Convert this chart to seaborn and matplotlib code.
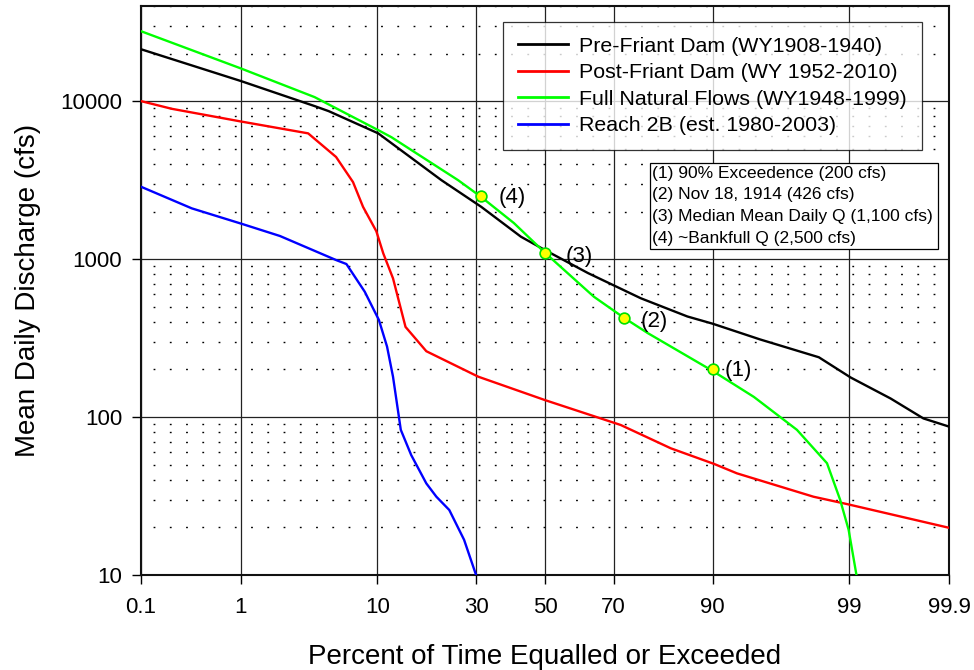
import numpy as np
import pandas as pd
import matplotlib
matplotlib.use("Agg")
import matplotlib.pyplot as plt
import matplotlib.ticker as mticker
from matplotlib.patches import Rectangle
import seaborn as sns
from statistics import NormalDist

# ---------------- data ----------------
pre_p = [0.1, 1.0, 3.9, 4.9, 10.1, 12, 21.4, 31.3, 42.7, 50, 62.9, 76.8, 86.2, 90, 95.0, 98.19, 99.03, 99.59, 99.81, 99.9]
pre_q = [21300, 13400, 9300, 8640, 6250, 5420, 3160, 2140, 1385, 1140, 815, 565, 433, 390, 310, 239, 178, 131, 98, 87]

post_p = [0.1, 0.215, 1.0, 3.5, 5.5, 7.1, 8.2, 9.85, 10.8, 12.25, 14.3, 18.2, 30.5, 50, 71.9, 83.2, 90.2, 92.9, 98.0, 98.96, 99.9]
post_q = [10000, 8940, 7430, 6250, 4430, 3070, 2140, 1500, 1087, 755, 372, 261, 180, 128, 89, 63.4, 50.5, 44, 31.3, 28.1, 19.9]

fnf_p = [0.1, 1.0, 3.9, 10.1, 12, 25.3, 31.2, 40.6, 50, 64.6, 72.7, 78.4, 90, 94.5, 97.3, 98.45, 98.8, 98.99, 99.14]
fnf_q = [27700, 16100, 10600, 6550, 5910, 3160, 2480, 1690, 1096, 577, 425, 340, 196, 134, 83, 51, 30, 19.3, 10]

r2b_p = [0.1, 0.345, 1.03, 2.13, 5.5, 6.44, 8.4, 10.2, 11.35, 12.25, 13.5, 15.3, 18.2, 20.3, 23.2, 26.8, 29.9]
r2b_q = [2870, 2094, 1667, 1400, 986, 930, 621, 411, 279, 180, 83, 57.5, 38, 31.3, 25.8, 16.7, 10]

series_names = ["Pre-Friant Dam (WY1908-1940)", "Post-Friant Dam (WY 1952-2010)",
                "Full Natural Flows (WY1948-1999)", "Reach 2B (est. 1980-2003)"]
series_colors = ["#000000", "#ff0000", "#00ff00", "#0000ff"]

pt_p = [90, 72.7, 50, 31.2]
pt_q = [200, 426, 1100, 2500]
pt_labels = ["(1)", "(2)", "(3)", "(4)"]

note_lines = ["(1) 90% Exceedence (200 cfs)", "(2) Nov 18, 1914 (426 cfs)",
              "(3) Median Mean Daily Q (1,100 cfs)", "(4) ~Bankfull Q (2,500 cfs)"]

xticks = [0.1, 1, 10, 30, 50, 70, 90, 99, 99.9]
xticklabels = ["0.1", "1", "10", "30", "50", "70", "90", "99", "99.9"]
yticks = [10, 100, 1000, 10000]
yticklabels = ["10", "100", "1000", "10000"]

# label offsets (pixels) for the point annotations
lab_dx = [12, 17, 21, 18]
lab_dy = [-1, -4, -4, -1]

# ---------------- plotting ----------------
plt.rcParams["font.family"] = ["Liberation Sans", "DejaVu Sans"]

frames = []
for name, p, q in zip(series_names, [pre_p, post_p, fnf_p, r2b_p], [pre_q, post_q, fnf_q, r2b_q]):
    frames.append(pd.DataFrame({"p": p, "q": q, "series": name}))
df = pd.concat(frames, ignore_index=True)

fig = plt.figure(figsize=(9.74, 6.70), dpi=100)
ax = fig.add_axes([141 / 974, 1 - 575 / 670, (949 - 141) / 974, (575 - 6) / 670])

_nd = NormalDist()
_ppf = np.vectorize(_nd.inv_cdf, otypes=[float])
_cdf = np.vectorize(_nd.cdf, otypes=[float])


def fwd(p):
    p = np.asarray(p, dtype=float)
    q = np.clip(p / 100.0, 1e-9, 1 - 1e-9)
    return _ppf(q)


def inv(z):
    z = np.asarray(z, dtype=float)
    return 100.0 * _cdf(z)


ax.set_xscale("function", functions=(fwd, inv))
ax.set_yscale("log")

for name, color in zip(series_names, series_colors):
    sub = df[df["series"] == name]
    sns.lineplot(data=sub, x="p", y="q", ax=ax, color=color, lw=1.7, sort=False,
                 estimator=None, label=name, zorder=3)

sns.scatterplot(x=pt_p, y=pt_q, ax=ax, color="#ffff00", edgecolor="#00e000", s=60,
                linewidth=1.2, zorder=4, legend=False)
for p, q, lab, dx, dy in zip(pt_p, pt_q, pt_labels, lab_dx, lab_dy):
    ax.annotate(lab, (p, q), xytext=(dx, dy), textcoords="offset pixels",
                ha="left", va="center", fontsize=16, zorder=5)

ax.set_xlim(0.1, 99.9)
ax.set_ylim(10, 40000)
ax.set_xticks(xticks)
ax.set_xticklabels(xticklabels)
ax.xaxis.set_minor_locator(mticker.NullLocator())
ax.set_yticks(yticks)
ax.set_yticklabels(yticklabels)
ax.yaxis.set_minor_locator(mticker.LogLocator(base=10, subs=np.arange(2, 10)))
ax.yaxis.set_minor_formatter(mticker.NullFormatter())

ax.tick_params(axis="both", which="major", direction="out", length=6.5, width=1,
               labelsize=16, color="black")
ax.tick_params(axis="x", which="major", pad=9)
ax.tick_params(axis="y", which="major", pad=7)
ax.tick_params(which="minor", length=0)

ax.grid(which="major", color="#222222", lw=0.9, zorder=1)
ax.yaxis.grid(which="minor", color="black", lw=1, linestyle=(3, (1.3, 10.4)), zorder=1)
ax.set_axisbelow(True)
for s in ax.spines.values():
    s.set_linewidth(1.5)
    s.set_color("#111111")

ax.set_xlabel("Percent of Time Equalled or Exceeded", fontsize=20, labelpad=19)
ax.set_ylabel("Mean Daily Discharge (cfs)", fontsize=20, labelpad=14)

leg = ax.legend(loc="upper right", bbox_to_anchor=((922 - 141) / 808, (575 - 22) / 569),
                fontsize=15.4, frameon=True, fancybox=False, shadow=False,
                handlelength=2.34, handletextpad=0.51, labelspacing=0.35,
                borderpad=0.7, borderaxespad=0)
leg.get_frame().set_edgecolor("black")
leg.get_frame().set_linewidth(0.9)
leg.set_zorder(6)
for h in leg.get_lines():
    h.set_linewidth(2)

# notes box (figure-pixel placement)
W, H = 974, 670
box = Rectangle((650 / W, 1 - 249 / H), (938 - 650) / W, (249 - 163) / H,
                transform=fig.transFigure, facecolor="white", edgecolor="black",
                lw=0.9, zorder=6)
ax.add_patch(box)
box.set_clip_on(False)
for i, line in enumerate(note_lines):
    fig.text(652 / W, 1 - (173 + i * 21.7) / H, line, fontsize=12.5,
             ha="left", va="center", zorder=7)

fig.savefig("out.png", dpi=100)
